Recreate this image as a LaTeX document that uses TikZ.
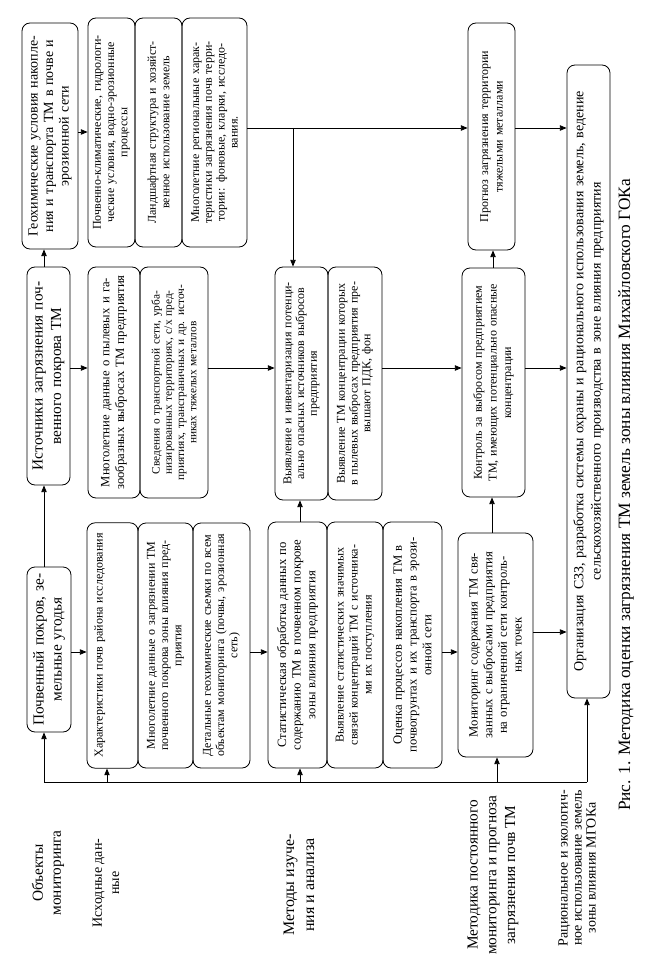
\documentclass[tikz,border=0pt]{standalone}
\usepackage{fontspec}
\setmainfont{Liberation Serif}
\usetikzlibrary{arrows.meta}
\newcommand{\rbox}[7][]{%
  \pgfmathsetmacro\rbcx{(#3+#5)/2}%
  \pgfmathsetmacro\rbcy{(#4+#6)/2}%
  \pgfmathsetmacro\rbw{(#6-#4)*0.75}%
  \pgfmathsetmacro\rbh{(#5-#3)*0.75}%
  \pgfmathsetmacro\rbt{\rbw-8}%
  \node[box, minimum width=\rbw pt, minimum height=\rbh pt, text width=\rbt pt, #1] (#2) at (\rbcx,\rbcy) {#7};%
}
\newcommand{\fs}[2]{\fontsize{#1}{#2}\selectfont}
\begin{document}
\begin{tikzpicture}[x=0.75pt,y=-0.75pt,
  box/.style={draw, rounded corners=6pt, rotate=90, align=center, inner sep=1pt, line width=0.6pt, font=\fs{9.5}{10.5}},
  lab/.style={rotate=90, align=center, inner sep=0pt},
  arr/.style={line width=0.6pt, -{Triangle[length=5pt,width=4pt]}},
  ln/.style={line width=0.6pt}]
\useasboundingbox (0,0) rectangle (645,959);
% column A
\rbox[font=\fs{10.5}{11.6}]{geo}{22}{23}{78}{249}{Геохимические условия накопле-\\ния и транспорта ТМ в почве и\\эрозионной сети}
\rbox[font=\fs{11.5}{14}]{ist}{27}{267}{70}{485}{Источники загрязнения поч-\\венного покрова ТМ}
\rbox[font=\fs{11.5}{13.5}]{poch}{27}{567}{71}{732}{Почвенный покров, зе-\\мельные угодья}
% column B top
\rbox[font=\fs{9}{10}]{pk}{88}{18}{135}{247}{Почвенно-климатические, гидрологи-\\ческие условия, водно-эрозионные\\процессы}
\rbox[font=\fs{9}{10}]{land}{135}{18}{182}{247}{Ландшафтная структура и хозяйст-\\венное использование земель}
\rbox[font=\fs{9}{9.6}]{mreg}{182}{18}{247}{247}{Многолетние региональные харак-\\теристики загрязнения почв терри-\\тории: фоновые, кларки, исследо-\\вания.}
% column B middle
\rbox[font=\fs{9.5}{11}]{mpyl}{88}{267}{140}{498}{Многолетние данные о пылевых и га-\\зообразных выбросах ТМ предприятия}
\rbox[font=\fs{8.5}{9.2}]{sved}{140}{267}{208}{498}{Сведения о транспортной сети, урба-\\низированных территориях, с/х пред-\\приятиях, трансграничных и др. источ-\\никах тяжелых металлов}
% column B bottom
\rbox[font=\fs{9}{10.5}, text width=182pt]{har}{87}{523}{138}{768}{Характеристики почв района исследования\\\mbox{}\\\mbox{}}
\rbox[font=\fs{9}{10}]{mzag}{138}{523}{193}{768}{Многолетние данные о загрязнении ТМ\\почвенного покрова зоны влияния пред-\\приятия}
\rbox[font=\fs{9}{10}]{det}{193}{523}{250}{768}{Детальные геохимические съемки по всем\\объектам мониторинга (почвы, эрозионная\\сеть)}
% column C
\rbox[font=\fs{9}{9.6}]{vinv}{275}{267}{328}{500}{Выявление и инвентаризация потенци-\\ально опасных источников выбросов\\предприятия}
\rbox[font=\fs{9}{9.6}]{vtm}{328}{267}{382}{500}{Выявление ТМ концентрации которых\\в пылевых выбросах предприятия пре-\\вышают ПДК, фон}
\rbox[font=\fs{9.5}{11}]{stat}{268}{522}{327}{768}{Статистическая обработка данных по\\содержанию ТМ в почвенном покрове\\зоны влияния предприятия}
\rbox[font=\fs{9}{10.5}]{vstat}{327}{522}{383}{768}{Выявление статистических значимых\\связей концентраций ТМ с источника-\\ми их поступления}
\rbox[font=\fs{9.5}{11}]{ocen}{383}{522}{442}{768}{Оценка процессов накопления ТМ в\\почвогрунтах и их транспорта в эрози-\\онной сети}
% column D
\rbox[font=\fs{9}{11}]{prog}{468}{23}{515}{250}{Прогноз загрязнения территории\\тяжелыми металлами}
\rbox[font=\fs{9}{11}]{kont}{462}{268}{525}{497}{Контроль за выбросом предприятием\\ТМ, имеющих потенциально опасные\\концентрации}
\rbox[font=\fs{9.5}{11}]{mon}{458}{533}{533}{757}{Мониторинг содержания ТМ свя-\\занных с выбросами предприятия\\на ограниченной сети контроль-\\ных точек}
% column E
\rbox[font=\fs{10.5}{13}]{org}{567}{65}{610}{698}{Организация СЗЗ, разработка системы охраны и рационального использования земель, ведение\\сельскохозяйственного производства в зоне влияния предприятия}
% labels
\node[lab, font=\fs{11.5}{13.5}] (l1) at (48,873) {Объекты\\мониторинга};
\node[lab, font=\fs{10.5}{13}] (l2) at (106,883) {Исходные дан-\\ные};
\node[lab, font=\fs{12}{15}] (l3) at (299,885) {Методы изуче-\\ния и анализа};
\node[lab, font=\fs{11.5}{14}] (l4) at (493,875) {Методика постоянного\\мониторинга и прогноза\\загрязнения почв ТМ};
\node[lab, font=\fs{10.5}{10.5}] (l5) at (577,868) {Рациональное и экологич-\\ное использование земель\\зоны влияния МГОКа};
\node[lab, font=\fs{13}{15}] (cap) at (626,495) {Рис. 1. Методика оценки загрязнения ТМ земель зоны влияния Михайловского ГОКа};
% bus
\coordinate (b0) at (44,782);
\coordinate (b1) at (107,782);
\coordinate (b2) at (300,782);
\coordinate (b3) at (497,782);
\coordinate (b4) at (587,782);
\draw[ln] (b0) -- (b4);
\draw[arr] (b0) -- (b0 |- poch.west);
\draw[arr] (b1) -- (b1 |- har.west);
\draw[arr] (b2) -- (b2 |- stat.west);
\draw[arr] (b3) -- (b3 |- mon.west);
\draw[arr] (b4) -- (b4 |- org.west);
% vertical arrows
\draw[arr] (poch.east -| b0) -- (ist.west -| b0);
\draw[arr] (ist.east -| b0) -- (geo.west -| b0);
\draw[arr] (stat.east -| b2) -- (vinv.west -| b2);
\draw[arr] (mon.east -| 492,0) -- (kont.west -| 492,0);
\draw[arr] (kont.east -| 493,0) -- (prog.west -| 493,0);
% horizontal arrows
\draw[arr] (geo.south |- 0,132) -- (pk.north |- 0,132);
\draw[arr] (ist.south |- 0,368) -- (mpyl.north |- 0,368);
\draw[arr] (poch.south |- 0,652) -- (har.north |- 0,652);
\draw[arr] (det.south |- 0,652) -- (stat.north |- 0,652);
\draw[arr] (sved.south |- 0,368) -- (vinv.north |- 0,368);
\coordinate (br) at (293,128);
\draw[arr] (mreg.south |- 0,128) -- (prog.north |- 0,128);
\draw[arr] (br) -- (br |- vinv.east);
\draw[arr] (vtm.south |- 0,368) -- (kont.north |- 0,368);
\draw[arr] (ocen.south |- 0,652) -- (mon.north |- 0,652);
\draw[arr] (prog.south |- 0,128) -- (org.north |- 0,128);
\draw[arr] (kont.south |- 0,368) -- (org.north |- 0,368);
\draw[arr] (mon.south |- 0,632) -- (org.north |- 0,632);
\end{tikzpicture}
\end{document}
